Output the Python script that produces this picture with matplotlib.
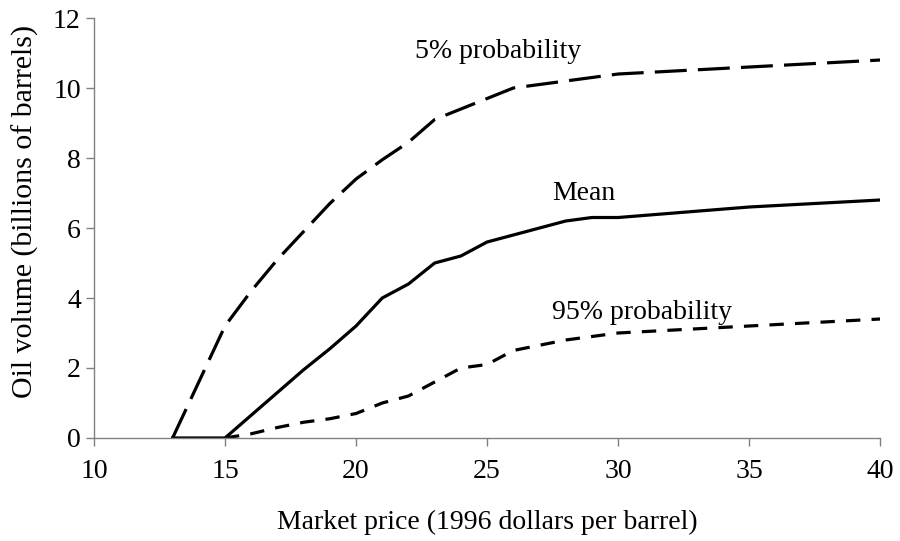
import numpy as np
import matplotlib.pyplot as plt

# oil volume (billions of barrels) vs market price (1996 $/bbl)
price_p5 = [13, 14, 15, 16, 17, 18, 19, 20, 21, 22, 23, 24, 25, 26, 27, 28, 29, 30, 35, 40]
vol_p5 = [0, 1.6, 3.2, 4.2, 5.1, 5.9, 6.7, 7.4, 7.95, 8.45, 9.1, 9.4, 9.7, 10.0, 10.1, 10.2, 10.3, 10.4, 10.6, 10.8]

price_mean = [13, 15, 16, 17, 18, 19, 20, 21, 22, 23, 24, 25, 26, 27, 28, 29, 30, 35, 40]
vol_mean = [0, 0, 0.65, 1.3, 1.95, 2.55, 3.2, 4.0, 4.4, 5.0, 5.2, 5.6, 5.8, 6.0, 6.2, 6.3, 6.3, 6.6, 6.8]

price_p95 = [15, 16, 17, 18, 19, 20, 21, 22, 23, 24, 25, 26, 27, 28, 29, 30, 35, 40]
vol_p95 = [0, 0.12, 0.3, 0.45, 0.55, 0.7, 1.0, 1.2, 1.6, 2.0, 2.1, 2.5, 2.65, 2.8, 2.9, 3.0, 3.2, 3.4]

plt.rcParams['font.family'] = ['Liberation Serif', 'DejaVu Serif']
fs = 20

fig = plt.figure(figsize=(9, 5.41), dpi=100)
ax = fig.add_axes([0.1044, 0.1904, 0.8736, 0.7763])

lw = 2.3
ax.plot(price_p5, vol_p5, color='black', lw=lw, dashes=(10, 3.5))
ax.plot(price_mean, vol_mean, color='black', lw=lw)
ax.plot(price_p95, vol_p95, color='black', lw=lw, dashes=(4.5, 3.5))

ax.text(25.4, 11.05, '5% probability', fontsize=fs, ha='center', va='center')
ax.text(28.7, 7.0, 'Mean', fontsize=fs, ha='center', va='center')
ax.text(30.9, 3.6, '95% probability', fontsize=fs, ha='center', va='center')

ax.set_xlim(10, 40)
ax.set_ylim(0, 12)
ax.set_xticks(np.arange(10, 41, 5))
ax.set_yticks(np.arange(0, 13, 2))

for s in ['top', 'right']:
    ax.spines[s].set_visible(False)
for s in ['left', 'bottom']:
    ax.spines[s].set_color('#808080')
    ax.spines[s].set_linewidth(1.0)
ax.tick_params(axis='both', colors='#808080', labelcolor='black', labelsize=fs,
               length=6, width=1.0, direction='out')
ax.tick_params(axis='x', pad=9)

ax.set_xlabel('Market price (1996 dollars per barrel)', fontsize=fs, labelpad=19)
ax.set_ylabel('Oil volume (billions of barrels)', fontsize=21.5, labelpad=10)
ax.yaxis.label.set_y(0.54)

fig.savefig('out.png', dpi=100)
